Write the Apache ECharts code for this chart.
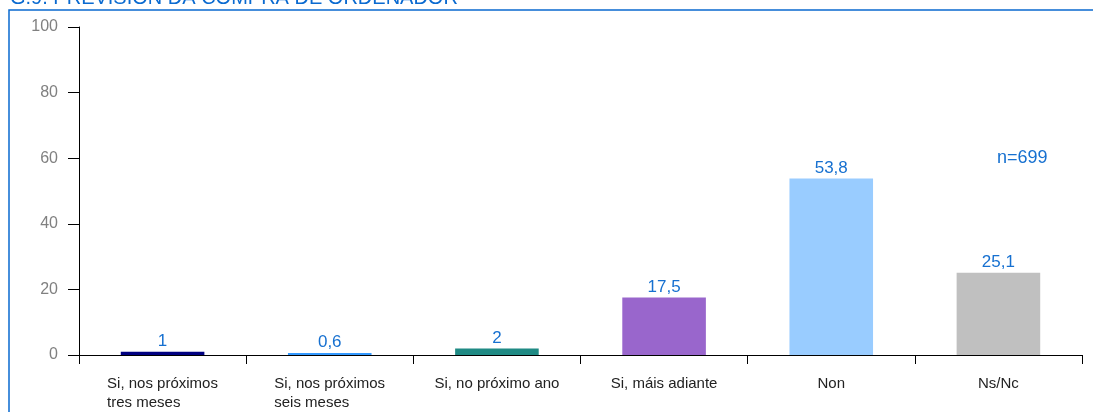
<!DOCTYPE html>
<html>
<head>
<meta charset="utf-8">
<script src="https://cdn.jsdelivr.net/npm/echarts@6/dist/echarts.min.js"></script>
<style>
  html, body { margin: 0; padding: 0; background: #fff; }
  #chart { width: 1094px; height: 412px; }
</style>
</head>
<body>
<div id="chart"></div>
<script>
// categories and values
var categories = [
  'Si, nos próximos\ntres meses',
  'Si, nos próximos\nseis meses',
  'Si, no próximo ano',
  'Si, máis adiante',
  'Non',
  'Ns/Nc'
];
var values = [1, 0.6, 2, 17.5, 53.8, 25.1];
var barColors = ['#000080', '#3399FF', '#1F8A84', '#9966CC', '#99CCFF', '#C0C0C0'];
var yTicks = [0, 20, 40, 60, 80, 100];
var titleText = 'G.9. PREVISIÓN DA COMPRA DE ORDENADOR';
var sampleText = 'n=699';

var blue = '#1670D0';
var font = 'Arial, "Liberation Sans", sans-serif';
var chart = echarts.init(document.getElementById('chart'));

var option = {
  animation: false,
  textStyle: { fontFamily: font },
  grid: { left: 79, right: 12, top: 27, bottom: 57 },
  graphic: [
    {
      type: 'polyline',
      shape: { points: [[9, 412], [9, 10], [1093, 10]] },
      style: { stroke: '#0A6AD0', lineWidth: 1.5, fill: null }
    },
    {
      type: 'text',
      left: 10,
      top: -12,
      style: { text: titleText, fill: '#0A6AD0', fontSize: 20, fontFamily: font }
    },
    {
      type: 'text',
      left: 997,
      top: 149,
      style: { text: sampleText, fill: blue, fontSize: 18, fontFamily: font }
    }
  ],
  xAxis: {
    type: 'category',
    data: categories,
    boundaryGap: true,
    axisLine: { lineStyle: { color: '#000', width: 1 } },
    axisTick: { show: true, length: 9, lineStyle: { color: '#000' } },
    axisLabel: {
      margin: 19,
      interval: 0,
      color: '#222',
      fontSize: 15,
      lineHeight: 19,
      formatter: function (v) {
        if (v.indexOf('\n') < 0) return v;
        return v.split('\n').map(function (s) { return '{a|' + s + '}'; }).join('\n');
      },
      rich: {
        a: { width: 111, align: 'left', fontSize: 15, color: '#222', lineHeight: 19 }
      }
    }
  },
  yAxis: {
    type: 'value',
    min: 0,
    max: 100,
    interval: 20,
    axisLine: { show: true, lineStyle: { color: '#000', width: 1 } },
    axisTick: { show: true, length: 11, lineStyle: { color: '#000' } },
    splitLine: { show: false },
    axisLabel: { color: '#808080', fontSize: 16, margin: 21 }
  },
  series: [{
    type: 'bar',
    barWidth: '50%',
    data: values.map(function (v, i) {
      return { value: v, itemStyle: { color: barColors[i] } };
    }),
    label: {
      show: true,
      position: 'top',
      distance: 2,
      color: blue,
      fontSize: 17,
      formatter: function (p) { return String(p.value).replace('.', ','); }
    }
  }]
};

chart.setOption(option);
</script>
</body>
</html>
